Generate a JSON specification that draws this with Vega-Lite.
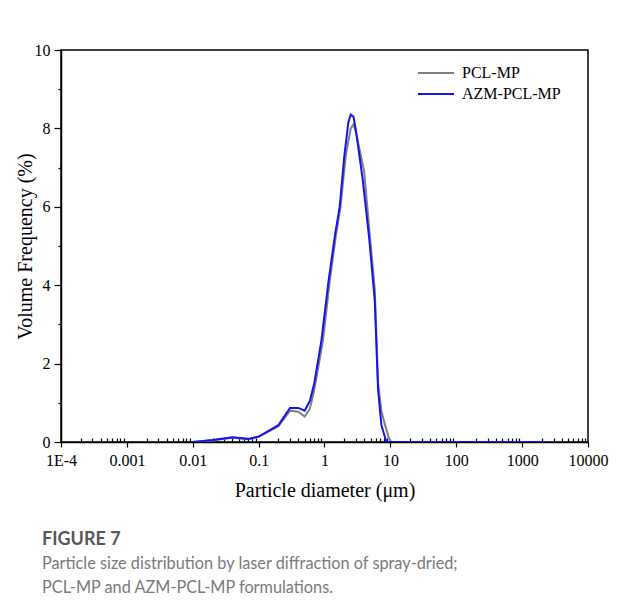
{
  "$schema": "https://vega.github.io/schema/vega-lite/v6.json",
  "width": 527,
  "height": 392,
  "autosize": {"type": "none"},
  "padding": {"left": 61, "top": 50, "right": 29, "bottom": 172},
  "background": "white",
  "config": {
    "view": {"stroke": "black", "strokeWidth": 1.5},
    "font": "Liberation Serif"
  },
  "title": {
    "text": "FIGURE 7",
    "subtitle": ["Particle size distribution by laser diffraction of spray-dried;", "PCL-MP and AZM-PCL-MP formulations."],
    "orient": "bottom",
    "anchor": "start",
    "frame": "group",
    "dx": -19,
    "offset": 31,
    "font": "Lato",
    "fontSize": 18,
    "fontWeight": "bold",
    "color": "#585858",
    "subtitleFont": "Lato",
    "subtitleFontSize": 16.3,
    "subtitleColor": "#7a7a7a",
    "subtitlePadding": 7,
    "subtitleLineHeight": 24
  },
  "data": {
    "values": [
      {"d": 0.01, "v": 0, "s": "PCL-MP"},
      {"d": 0.02, "v": 0.04, "s": "PCL-MP"},
      {"d": 0.04, "v": 0.11, "s": "PCL-MP"},
      {"d": 0.07, "v": 0.07, "s": "PCL-MP"},
      {"d": 0.1, "v": 0.13, "s": "PCL-MP"},
      {"d": 0.2, "v": 0.4, "s": "PCL-MP"},
      {"d": 0.3, "v": 0.8, "s": "PCL-MP"},
      {"d": 0.4, "v": 0.77, "s": "PCL-MP"},
      {"d": 0.5, "v": 0.65, "s": "PCL-MP"},
      {"d": 0.6, "v": 0.85, "s": "PCL-MP"},
      {"d": 0.7, "v": 1.33, "s": "PCL-MP"},
      {"d": 0.95, "v": 2.6, "s": "PCL-MP"},
      {"d": 1.2, "v": 4.1, "s": "PCL-MP"},
      {"d": 1.5, "v": 5.3, "s": "PCL-MP"},
      {"d": 1.75, "v": 6.0, "s": "PCL-MP"},
      {"d": 2.1, "v": 7.3, "s": "PCL-MP"},
      {"d": 2.5, "v": 8.0, "s": "PCL-MP"},
      {"d": 2.75, "v": 8.1, "s": "PCL-MP"},
      {"d": 3.0, "v": 7.9, "s": "PCL-MP"},
      {"d": 4.0, "v": 6.9, "s": "PCL-MP"},
      {"d": 4.8, "v": 5.4, "s": "PCL-MP"},
      {"d": 5.8, "v": 3.9, "s": "PCL-MP"},
      {"d": 6.5, "v": 1.5, "s": "PCL-MP"},
      {"d": 7.3, "v": 0.8, "s": "PCL-MP"},
      {"d": 8.1, "v": 0.5, "s": "PCL-MP"},
      {"d": 9.5, "v": 0.1, "s": "PCL-MP"},
      {"d": 10.3, "v": 0, "s": "PCL-MP"},
      {"d": 100, "v": 0, "s": "PCL-MP"},
      {"d": 1000, "v": 0, "s": "PCL-MP"},
      {"d": 2500, "v": 0, "s": "PCL-MP"},
      {"d": 0.01, "v": 0, "s": "AZM-PCL-MP"},
      {"d": 0.02, "v": 0.05, "s": "AZM-PCL-MP"},
      {"d": 0.04, "v": 0.12, "s": "AZM-PCL-MP"},
      {"d": 0.07, "v": 0.08, "s": "AZM-PCL-MP"},
      {"d": 0.1, "v": 0.14, "s": "AZM-PCL-MP"},
      {"d": 0.2, "v": 0.43, "s": "AZM-PCL-MP"},
      {"d": 0.3, "v": 0.87, "s": "AZM-PCL-MP"},
      {"d": 0.4, "v": 0.87, "s": "AZM-PCL-MP"},
      {"d": 0.5, "v": 0.8, "s": "AZM-PCL-MP"},
      {"d": 0.6, "v": 1.05, "s": "AZM-PCL-MP"},
      {"d": 0.7, "v": 1.5, "s": "AZM-PCL-MP"},
      {"d": 0.9, "v": 2.6, "s": "AZM-PCL-MP"},
      {"d": 1.15, "v": 4.1, "s": "AZM-PCL-MP"},
      {"d": 1.45, "v": 5.3, "s": "AZM-PCL-MP"},
      {"d": 1.7, "v": 6.0, "s": "AZM-PCL-MP"},
      {"d": 2.0, "v": 7.3, "s": "AZM-PCL-MP"},
      {"d": 2.3, "v": 8.15, "s": "AZM-PCL-MP"},
      {"d": 2.5, "v": 8.35, "s": "AZM-PCL-MP"},
      {"d": 2.75, "v": 8.3, "s": "AZM-PCL-MP"},
      {"d": 3.0, "v": 7.95, "s": "AZM-PCL-MP"},
      {"d": 3.8, "v": 6.7, "s": "AZM-PCL-MP"},
      {"d": 4.8, "v": 5.15, "s": "AZM-PCL-MP"},
      {"d": 5.8, "v": 3.6, "s": "AZM-PCL-MP"},
      {"d": 6.5, "v": 1.35, "s": "AZM-PCL-MP"},
      {"d": 7.3, "v": 0.43, "s": "AZM-PCL-MP"},
      {"d": 8.7, "v": 0, "s": "AZM-PCL-MP"},
      {"d": 100, "v": 0, "s": "AZM-PCL-MP"},
      {"d": 1000, "v": 0, "s": "AZM-PCL-MP"},
      {"d": 2500, "v": 0, "s": "AZM-PCL-MP"}
    ]
  },
  "mark": {"type": "line", "strokeWidth": 2, "clip": true},
  "encoding": {
    "x": {
      "field": "d",
      "type": "quantitative",
      "scale": {"type": "log", "domain": [0.0001, 10000], "nice": false},
      "axis": {
        "title": "Particle diameter (μm)",
        "titleFont": "Liberation Serif",
        "titleFontSize": 20,
        "titleFontWeight": "normal",
        "titleColor": "black",
        "titlePadding": 12,
        "labelFont": "Liberation Serif",
        "labelFontSize": 16,
        "labelColor": "black",
        "labelPadding": 5,
        "labelFlush": false,
        "labelOverlap": false,
        "grid": false,
        "domainColor": "black",
        "domainWidth": 1.5,
        "tickColor": "black",
        "tickWidth": 1.2,
        "tickSize": {"condition": {"test": "abs(log(datum.value)/LN10 - round(log(datum.value)/LN10)) < 0.001", "value": 5}, "value": -4},
        "values": [0.0001,0.0002,0.0003,0.0004,0.0005,0.0006,0.0007,0.0008,0.0009,0.001,0.002,0.003,0.004,0.005,0.006,0.007,0.008,0.009,0.01,0.02,0.03,0.04,0.05,0.06,0.07,0.08,0.09,0.1,0.2,0.3,0.4,0.5,0.6,0.7,0.8,0.9,1,2,3,4,5,6,7,8,9,10,20,30,40,50,60,70,80,90,100,200,300,400,500,600,700,800,900,1000,2000,3000,4000,5000,6000,7000,8000,9000,10000],
        "labelExpr": "abs(log(datum.value)/LN10 - round(log(datum.value)/LN10)) < 0.001 ? (datum.value < 0.0005 ? '1E-4' : '' + datum.value) : ''"
      }
    },
    "y": {
      "field": "v",
      "type": "quantitative",
      "scale": {"domain": [0, 10], "nice": false},
      "axis": {
        "title": "Volume Frequency (%)",
        "titleFont": "Liberation Serif",
        "titleFontSize": 20,
        "titleFontWeight": "normal",
        "titleColor": "black",
        "titlePadding": -1,
        "labelFont": "Liberation Serif",
        "labelFontSize": 16,
        "labelColor": "black",
        "labelPadding": 4,
        "labelFlush": false,
        "labelOverlap": false,
        "grid": false,
        "domainColor": "black",
        "domainWidth": 1.5,
        "tickColor": "black",
        "tickWidth": 1.2,
        "values": [0,1,2,3,4,5,6,7,8,9,10],
        "tickSize": {"condition": {"test": "datum.value % 2 == 0", "value": 7}, "value": 3},
        "labelExpr": "datum.value % 2 == 0 ? datum.label : ''"
      }
    },
    "color": {
      "field": "s",
      "type": "nominal",
      "sort": ["PCL-MP", "AZM-PCL-MP"],
      "scale": {"domain": ["PCL-MP", "AZM-PCL-MP"], "range": ["#7f7f7f", "#1414f0"]},
      "legend": {
        "title": null,
        "orient": "none",
        "legendX": 365,
        "legendY": 13,
        "padding": 0,
        "symbolType": "M-2,0H2",
        "symbolSize": 324,
        "symbolStrokeWidth": 2,
        "symbolFillColor": "transparent",
        "labelFont": "Liberation Serif",
        "labelFontSize": 16,
        "labelColor": "black",
        "labelOffset": 16,
        "rowPadding": 3
      }
    }
  }
}
